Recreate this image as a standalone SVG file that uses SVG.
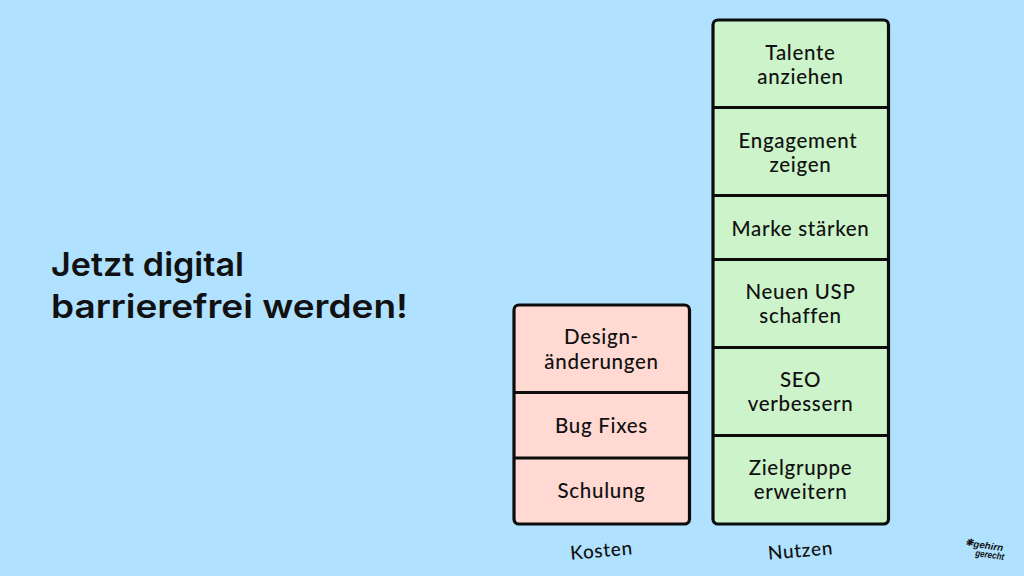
<svg xmlns="http://www.w3.org/2000/svg" width="1024" height="576" viewBox="0 0 1024 576">
<style>
text{font-family:"Lato","Noto Sans",sans-serif;fill:#111;text-anchor:middle}
.t{font-size:20.5px;font-weight:500;letter-spacing:.7px}
.c{fill:#ffd9d2}.n{fill:#ccf3c9}
.box{stroke:#0c0c0c;stroke-width:3.2}
.frame{fill:none;stroke:#0c0c0c;stroke-width:3.2}
.title{font-family:"Inter","Lato",sans-serif;font-size:33px;font-weight:600;text-anchor:start}
.l{font-size:19px;font-weight:500;letter-spacing:.7px}
.logo{font-family:"Liberation Sans",sans-serif;font-size:9.5px;font-weight:700;font-style:italic;text-anchor:start}
</style>
<rect width="1024" height="576" fill="#b0e1ff"/>
<g id="title"><text class="title" x="51" y="276" textLength="193" lengthAdjust="spacingAndGlyphs">Jetzt digital</text><text class="title" x="51" y="318" textLength="357" lengthAdjust="spacingAndGlyphs">barrierefrei werden!</text></g>
<g id="kosten-stack"><rect class="c" x="514" y="305" width="175.500" height="219" rx="5"/></g>
<g id="k1"><text class="t" x="601.500" y="344">Design-</text><text class="t" x="601.500" y="369">änderungen</text></g>
<g id="k2"><text class="t" x="601.500" y="433">Bug Fixes</text></g>
<g id="k3"><text class="t" x="601.500" y="498">Schulung</text></g>
<g id="nutzen-stack"><rect class="n" x="713" y="20" width="175.500" height="504" rx="5"/></g>
<g id="n1"><text class="t" x="800.500" y="60">Talente</text><text class="t" x="800.500" y="84">anziehen</text></g>
<g id="n2"><text class="t" x="798" y="148">Engagement</text><text class="t" x="800.500" y="172">zeigen</text></g>
<g id="n3"><text class="t" x="800.500" y="236">Marke stärken</text></g>
<g id="n4"><text class="t" x="800.500" y="299">Neuen USP</text><text class="t" x="800.500" y="323">schaffen</text></g>
<g id="n5"><text class="t" x="800.500" y="387">SEO</text><text class="t" x="800.500" y="411">verbessern</text></g>
<g id="n6"><text class="t" x="800.500" y="475">Zielgruppe</text><text class="t" x="800.500" y="499">erweitern</text></g>
<g id="connectors">
<rect class="frame" x="514" y="305" width="175.500" height="219" rx="5"/>
<rect class="frame" x="713" y="20" width="175.500" height="504" rx="5"/>
<path class="box" fill="none" d="M514 392.500H689.500M514 458H689.500M713 107.500H888.500M713 195.500H888.500M713 259.500H888.500M713 347.500H888.500M713 435.500H888.500"/>
</g>
<g id="label-kosten"><text class="l" transform="translate(602 557) rotate(-5)">Kosten</text></g>
<g id="label-nutzen"><text class="l" transform="translate(801 557) rotate(-5)">Nutzen</text></g>
<g id="logo"><text class="logo" transform="translate(965 545) rotate(8)">❋</text><text class="logo" transform="translate(973 547) rotate(8)" textLength="30" lengthAdjust="spacingAndGlyphs">gehirn</text><text class="logo" transform="translate(975 556) rotate(8)" textLength="29" lengthAdjust="spacingAndGlyphs">gerecht</text></g>
</svg>
